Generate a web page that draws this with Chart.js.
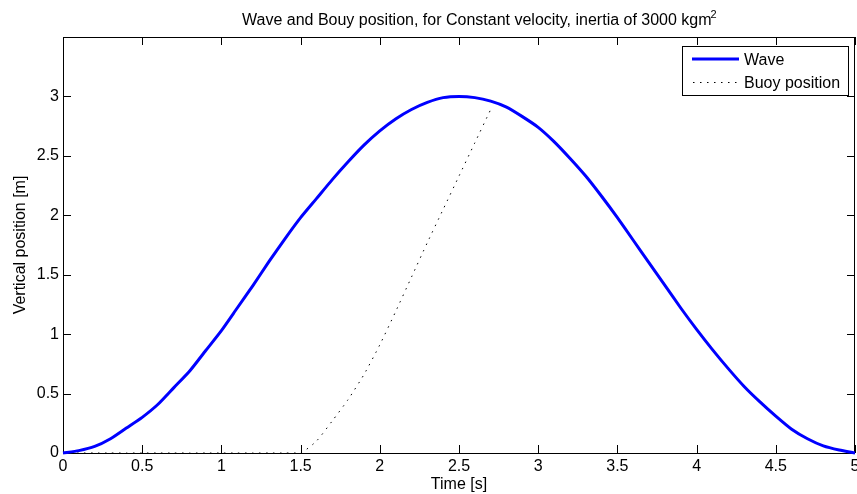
<!DOCTYPE html>
<html>
<head>
<meta charset="utf-8">
<title>Wave and Buoy position</title>
<script src="https://cdn.jsdelivr.net/npm/chart.js@4.4.1/dist/chart.umd.min.js"></script>
<style>
  html, body { margin: 0; padding: 0; background: #fff; }
  #wrap { width: 857px; height: 494px; }
</style>
</head>
<body>
<div id="wrap"><canvas id="waveChart" width="857" height="494"></canvas></div>
<script>
/* ---- data ---- */
const timeS = [0, 0.1, 0.2, 0.3, 0.4, 0.5, 0.6, 0.7, 0.8, 0.9,
               1.0, 1.1, 1.2, 1.3, 1.4, 1.5, 1.6, 1.7, 1.8, 1.9,
               2.0, 2.1, 2.2, 2.3, 2.4, 2.5, 2.6, 2.7, 2.8, 2.9,
               3.0, 3.1, 3.2, 3.3, 3.4, 3.5, 3.6, 3.7, 3.8, 3.9,
               4.0, 4.1, 4.2, 4.3, 4.4, 4.5, 4.6, 4.7, 4.8, 4.9, 5.0];

const waveM = [0, 0.02, 0.055, 0.12, 0.21, 0.30, 0.41, 0.55, 0.69, 0.86,
               1.03, 1.22, 1.41, 1.61, 1.80, 1.98, 2.14, 2.30, 2.45, 2.59,
               2.71, 2.81, 2.89, 2.95, 2.99, 3.00, 2.99, 2.96, 2.91, 2.83,
               2.74, 2.62, 2.48, 2.33, 2.16, 1.98, 1.79, 1.60, 1.41, 1.22,
               1.04, 0.87, 0.71, 0.56, 0.43, 0.31, 0.20, 0.12, 0.06, 0.025, 0];

// buoy only runs until it meets the wave (t = 2.7 s)
const buoyM = [0, 0, 0, 0, 0, 0, 0, 0, 0, 0,
               0, 0, 0, 0, 0, 0, 0.10, 0.27, 0.45, 0.66,
               0.91, 1.19, 1.48, 1.77, 2.05, 2.33, 2.61, 2.89];

const xTicks = [0, 0.5, 1, 1.5, 2, 2.5, 3, 3.5, 4, 4.5, 5];
const xTickLabels = ['0', '0.5', '1', '1.5', '2', '2.5', '3', '3.5', '4', '4.5', '5'];
const yTicks = [0, 0.5, 1, 1.5, 2, 2.5, 3];
const yTickLabels = ['0', '0.5', '1', '1.5', '2', '2.5', '3'];

const seriesNames = ['Wave', 'Buoy position'];
const chartTitle = 'Wave and Bouy position, for Constant velocity, inertia of 3000 kgm';
const titleSup = '2';

/* ---- styling ---- */
const FONT = "'Liberation Sans', Arial, Helvetica, sans-serif";
const WAVE_COLOR = '#0000ff';
const BUOY_DASH = [1.5, 5.5];

const wavePoints = timeS.map((t, i) => ({ x: t, y: waveM[i] }));
const buoyPoints = buoyM.map((v, i) => ({ x: timeS[i], y: v }));

// MATLAB-like box, inward ticks, title and boxed legend
const matlabFrame = {
    id: 'matlabFrame',
    beforeDatasetsDraw(chart) {
        const { ctx, chartArea: a, scales } = chart;
        const tickLen = 8;
        ctx.save();
        ctx.strokeStyle = '#000';
        ctx.lineWidth = 1;
        ctx.beginPath();
        scales.x.ticks.forEach(t => {
            const px = Math.round(scales.x.getPixelForValue(t.value)) + 0.5;
            ctx.moveTo(px, a.bottom);
            ctx.lineTo(px, a.bottom - tickLen);
            ctx.moveTo(px, a.top);
            ctx.lineTo(px, a.top + tickLen);
        });
        scales.y.ticks.forEach(t => {
            const py = Math.round(scales.y.getPixelForValue(t.value)) + 0.5;
            ctx.moveTo(a.left, py);
            ctx.lineTo(a.left + tickLen, py);
            ctx.moveTo(a.right, py);
            ctx.lineTo(a.right - tickLen, py);
        });
        ctx.stroke();
        ctx.strokeRect(Math.round(a.left) + 0.5, Math.round(a.top) + 0.5,
                       Math.round(a.right - a.left) - 1, Math.round(a.bottom - a.top));
        ctx.restore();
    },
    afterDraw(chart) {
        const { ctx, chartArea: a } = chart;
        ctx.save();

        // title with superscript
        ctx.fillStyle = '#000';
        ctx.font = '16px ' + FONT;
        ctx.textBaseline = 'alphabetic';
        ctx.textAlign = 'left';
        const tx = 242, ty = 25;
        ctx.fillText(chartTitle, tx, ty);
        const tw = ctx.measureText(chartTitle).width;
        ctx.font = '11px ' + FONT;
        ctx.fillText(titleSup, tx + tw - 1, ty - 7);

        // legend box
        const lx = a.right - 173, ly = a.top + 9, lw = 166, lh = 49;
        ctx.fillStyle = '#fff';
        ctx.fillRect(lx, ly, lw, lh);
        ctx.strokeStyle = '#000';
        ctx.lineWidth = 1;
        ctx.strokeRect(lx + 0.5, ly + 0.5, lw, lh);

        ctx.beginPath();
        ctx.strokeStyle = WAVE_COLOR;
        ctx.lineWidth = 3;
        ctx.moveTo(lx + 10, ly + 13);
        ctx.lineTo(lx + 57, ly + 13);
        ctx.stroke();

        ctx.beginPath();
        ctx.strokeStyle = '#000';
        ctx.lineWidth = 1;
        ctx.setLineDash(BUOY_DASH);
        ctx.moveTo(lx + 11, ly + 36.5);
        ctx.lineTo(lx + 57, ly + 36.5);
        ctx.stroke();
        ctx.setLineDash([]);

        ctx.fillStyle = '#000';
        ctx.font = '16px ' + FONT;
        ctx.fillText(seriesNames[0], lx + 62, ly + 19);
        ctx.fillText(seriesNames[1], lx + 62, ly + 42);
        ctx.restore();
    }
};

const tickFont = { family: FONT, size: 16 };

new Chart(document.getElementById('waveChart').getContext('2d'), {
    type: 'line',
    data: {
        datasets: [
            {
                label: seriesNames[0],
                data: wavePoints,
                borderColor: WAVE_COLOR,
                borderWidth: 3,
                pointRadius: 0,
                tension: 0.2,
                clip: false,
            },
            {
                label: seriesNames[1],
                data: buoyPoints,
                borderColor: '#000',
                borderWidth: 1,
                borderDash: BUOY_DASH,
                pointRadius: 0,
                tension: 0.2,
                clip: false,
            }
        ]
    },
    options: {
        responsive: false,
        animation: false,
        devicePixelRatio: 1,
        layout: { padding: { top: 37, right: 2, left: 0, bottom: 0 } },
        plugins: {
            legend: { display: false },
            title: { display: false },
            tooltip: { enabled: false },
        },
        scales: {
            x: {
                type: 'linear',
                min: 0,
                max: 5,
                afterBuildTicks: s => { s.ticks = xTicks.map(v => ({ value: v })); },
                afterFit: s => { s.height = 41; s.paddingLeft = 0; s.paddingRight = 0; },
                grid: { display: false, drawTicks: false },
                border: { display: false },
                ticks: {
                    color: '#000', font: tickFont, padding: 4, maxRotation: 0, autoSkip: false,
                    callback: (v, i) => xTickLabels[i],
                },
                title: { display: true, text: 'Time [s]', color: '#000', font: tickFont, padding: { top: 0, bottom: 0 } },
            },
            y: {
                type: 'linear',
                min: 0,
                max: 3.5,
                afterBuildTicks: s => { s.ticks = yTicks.map(v => ({ value: v })); },
                afterFit: s => { s.width = 63; s.paddingTop = 0; s.paddingBottom = 0; },
                grid: { display: false, drawTicks: false },
                border: { display: false },
                ticks: {
                    color: '#000', font: tickFont, padding: 4, autoSkip: false,
                    callback: (v, i) => yTickLabels[i],
                },
                title: { display: true, text: 'Vertical position [m]', color: '#000', font: tickFont, padding: { top: 11, bottom: 0 } },
            }
        }
    },
    plugins: [matlabFrame]
});
</script>
</body>
</html>
